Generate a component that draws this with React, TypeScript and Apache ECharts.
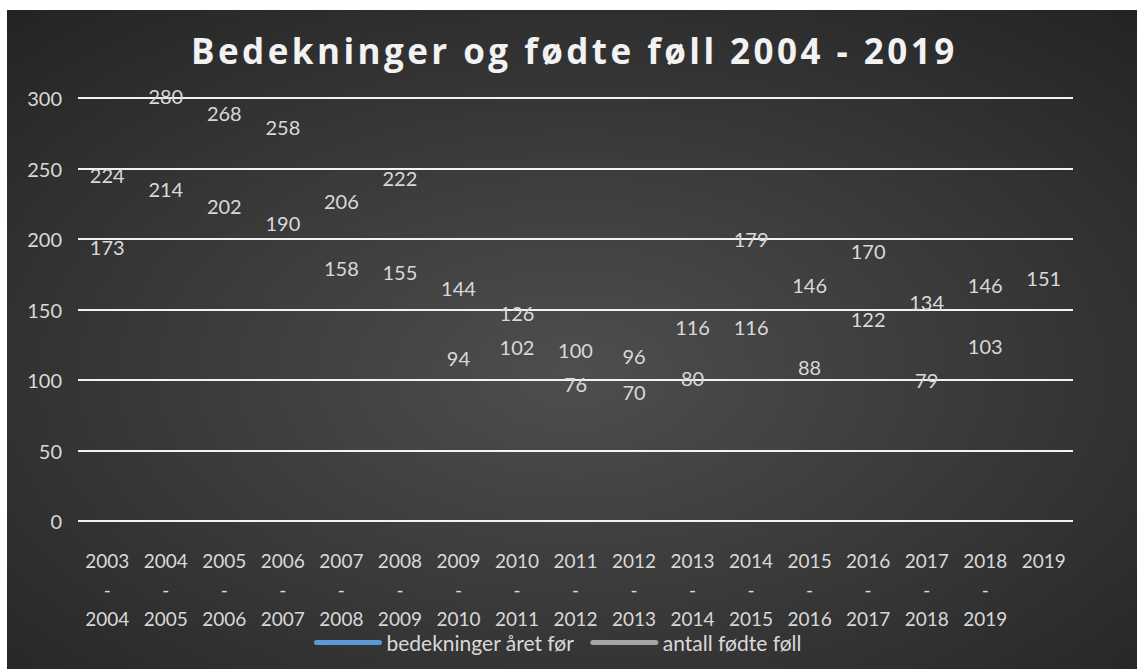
import React, { useEffect, useRef } from "react";
import * as echarts from "echarts";

const categories = [
  "2003\n-\n2004", "2004\n-\n2005", "2005\n-\n2006", "2006\n-\n2007", "2007\n-\n2008",
  "2008\n-\n2009", "2009\n-\n2010", "2010\n-\n2011", "2011\n-\n2012", "2012\n-\n2013",
  "2013\n-\n2014", "2014\n-\n2015", "2015\n-\n2016", "2016\n-\n2017", "2017\n-\n2018",
  "2018\n-\n2019", "2019",
];
const bedekninger = [224, 280, 268, 258, 206, 222, 144, 126, 100, 96, 116, 179, 146, 170, 134, 146, 151];
const fodteFoll = [173, 214, 202, 190, 158, 155, 94, 102, 76, 70, 80, 116, 88, 122, 79, 103, null];
const seriesNames = ["bedekninger året før", "antall fødte føll"];
const seriesColors = ["#5b9bd5", "#a5a5a5"];

const FONT = "Lato";
const TXT = "#d9d9d9";
const CLEAR = "rgba(0,0,0,0)";

export default function App() {
  const ref = useRef<HTMLDivElement>(null);
  useEffect(() => {
    const chart = echarts.init(ref.current!, undefined, { renderer: "svg" });
    const label = {
      show: true,
      position: "top" as const,
      distance: 19,
      color: TXT,
      fontFamily: FONT,
      fontSize: 20,
      lineHeight: 20,
    };
    chart.setOption({
      animation: false,
      backgroundColor: new echarts.graphic.RadialGradient(0.5, 0.55, 0.75, [
        { offset: 0, color: "#4e4e4e" },
        { offset: 1, color: "#232323" },
      ]),
      title: {
        text: "Bedekninger og fødte føll 2004 - 2019",
        left: 179,
        top: 18,
        textStyle: { color: "#f2f2f2", fontFamily: "Open Sans", fontWeight: "bold", fontSize: 35 },
      },
      legend: {
        bottom: 11,
        left: 302,
        itemWidth: 63,
        itemHeight: 6,
        itemGap: 16,
        textStyle: { color: TXT, fontFamily: FONT, fontSize: 21, padding: [0, 0, 0, 2] },
        data: seriesNames.map((n, i) => ({
          name: n,
          lineStyle: { color: seriesColors[i], width: 5, opacity: 1, cap: "round" },
          itemStyle: { color: CLEAR, opacity: 0, borderWidth: 0 },
        })),
      },
      grid: { left: 71, right: 64, top: 88, bottom: 148, containLabel: false },
      xAxis: {
        type: "category",
        data: categories,
        boundaryGap: true,
        axisLine: { show: false },
        axisTick: { show: false },
        axisLabel: {
          color: TXT,
          fontFamily: FONT,
          fontSize: 19,
          lineHeight: 29,
          margin: 25,
          interval: 0,
        },
      },
      yAxis: {
        type: "value",
        min: 0,
        max: 300,
        interval: 50,
        axisLine: { show: false },
        axisTick: { show: false },
        axisLabel: { color: TXT, fontFamily: FONT, fontSize: 20, margin: 16 },
        splitLine: { lineStyle: { color: "#f2f2f2", width: 2 } },
      },
      series: [
        {
          name: seriesNames[0],
          type: "line",
          data: bedekninger,
          symbol: "circle",
          symbolSize: 2,
          itemStyle: { color: CLEAR, borderWidth: 0 },
          lineStyle: { color: seriesColors[0], opacity: 0 },
          label,
        },
        {
          name: seriesNames[1],
          type: "line",
          data: fodteFoll,
          symbol: "circle",
          symbolSize: 2,
          itemStyle: { color: CLEAR, borderWidth: 0 },
          lineStyle: { color: seriesColors[1], opacity: 0 },
          label,
        },
      ],
    });
    return () => chart.dispose();
  }, []);
  return (
    <>
      <style>{`.chartbox text[style*="35px"] { letter-spacing: 3.45px; }`}</style>
      <div
        ref={ref}
        className="chartbox"
        style={{ position: "absolute", left: 7, top: 10, width: 1130, height: 659 }}
      />
    </>
  );
}
